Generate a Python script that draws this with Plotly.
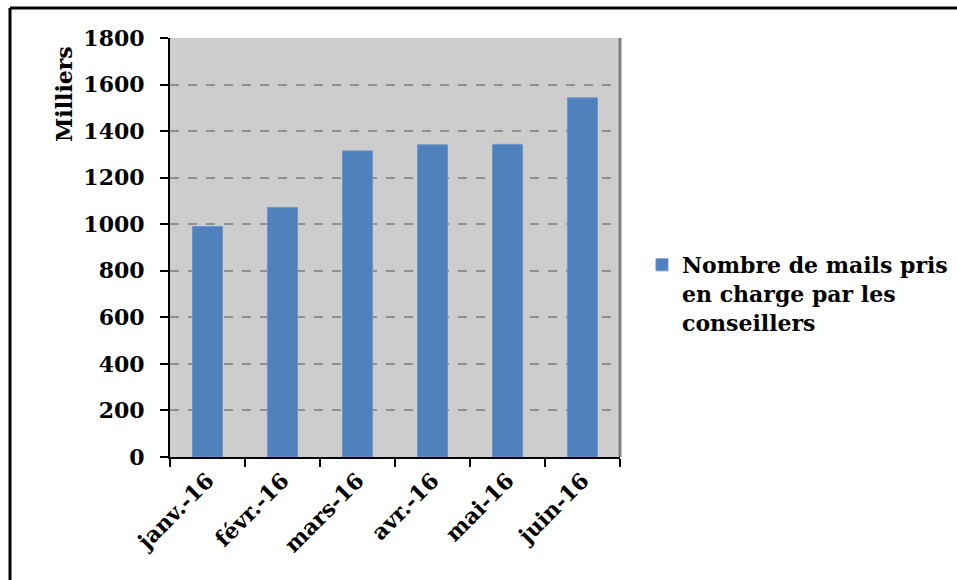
import plotly.graph_objects as go

# Monthly data (thousands of e-mails)
months = ["janv.-16", "févr.-16", "mars-16", "avr.-16", "mai-16", "juin-16"]
mails = [990, 1072, 1315, 1341, 1343, 1543]
series_name = "Nombre de mails pris<br>en charge par les<br>conseillers"
y_ticks = [0, 200, 400, 600, 800, 1000, 1200, 1400, 1600, 1800]

FONT = "DejaVu Serif"
FS = 22
W, H = 957, 580
L, R, T, B = 170, 337, 38, 123
pw, ph = W - L - R, H - T - B

def px_x(x):
    return (x - L) / pw

def px_y(y):
    return (H - B - y) / ph

bold = dict(family=FONT, size=FS, color="black", weight="bold")

fig = go.Figure()
fig.add_trace(go.Bar(
    x=months, y=mails, name=series_name,
    marker=dict(color="#4F81BD", line=dict(color="#6E95C8", width=1)),
    width=0.4,
))

fig.update_layout(
    width=W, height=H,
    margin=dict(l=L, r=R, t=T, b=B, autoexpand=False),
    paper_bgcolor="white",
    plot_bgcolor="#CDCDCD",
    font=dict(family=FONT, size=FS, color="black"),
    showlegend=True,
    legend=dict(
        x=px_x(642), y=px_y(244), xanchor="left", yanchor="top",
        font=bold, valign="top", itemwidth=30, tracegroupgap=0,
        bgcolor="rgba(0,0,0,0)",
    ),
    xaxis=dict(
        type="category", tickson="boundaries", ticks="outside", ticklen=8,
        tickwidth=2, tickcolor="black", showline=True, linecolor="black",
        linewidth=2, showgrid=False, tickangle=-45, tickfont=bold,
    ),
    yaxis=dict(
        range=[0, 1800], tickvals=y_ticks, ticks="outside", ticklen=8,
        tickwidth=2, tickcolor="black", showline=True, linecolor="black",
        linewidth=2, showgrid=True, gridcolor="#8F8F8F", gridwidth=2,
        griddash="dash", zeroline=False, tickfont=bold,
        ticklabelstandoff=11,
    ),
    bargap=0.6,
)

# Y-axis caption
fig.add_annotation(
    text="Milliers", textangle=-90, xref="paper", yref="paper",
    x=px_x(64), y=px_y(94), xanchor="center", yanchor="middle",
    showarrow=False, font=bold,
)

# Right edge of the plot area
fig.add_shape(type="line", xref="paper", yref="paper",
              x0=1, x1=1, y0=0, y1=1, line=dict(color="#808080", width=3))

# Outer chart frame (top and left edges)
fig.add_shape(type="line", xref="paper", yref="paper",
              x0=px_x(10), x1=px_x(10), y0=px_y(8), y1=px_y(600),
              line=dict(color="black", width=3))
fig.add_shape(type="line", xref="paper", yref="paper",
              x0=px_x(10), x1=px_x(970), y0=px_y(8), y1=px_y(8),
              line=dict(color="black", width=3))

fig.write_html("out.html")
